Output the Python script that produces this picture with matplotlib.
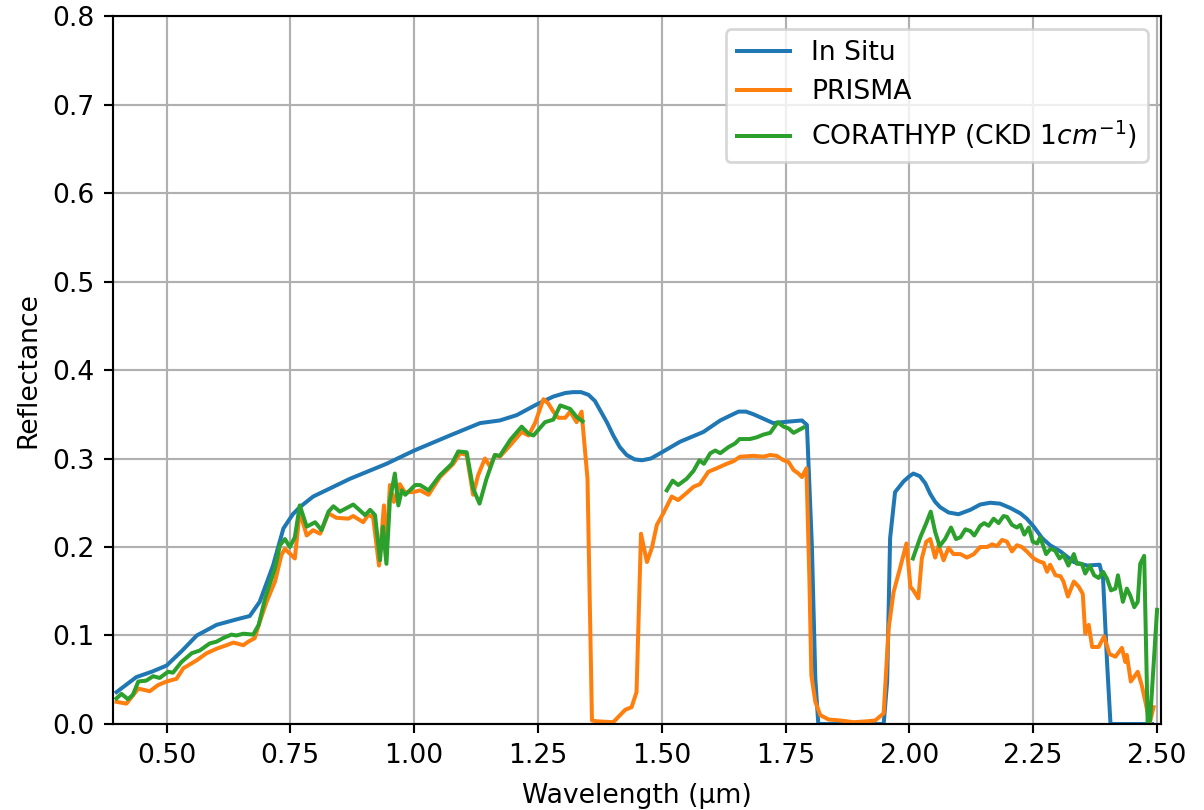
import numpy as np
import matplotlib
matplotlib.use("Agg")
import matplotlib.pyplot as plt

# In situ reflectance
wl_insitu = [0.399, 0.439, 0.470, 0.500, 0.530, 0.561, 0.601, 0.640, 0.668, 0.688,
             0.715, 0.736, 0.755, 0.769, 0.796, 0.870, 0.944, 1.000, 1.072, 1.133,
             1.173, 1.207, 1.247, 1.281, 1.305, 1.321, 1.337, 1.352, 1.365, 1.375,
             1.390, 1.402, 1.415, 1.429, 1.445, 1.460, 1.478, 1.497, 1.537, 1.584,
             1.618, 1.640, 1.655, 1.670, 1.685, 1.705, 1.725, 1.742, 1.783, 1.793,
             1.803, 1.810, 1.816, 1.948, 1.955, 1.961, 1.971, 1.988, 2.000, 2.008,
             2.021, 2.032, 2.042, 2.052, 2.062, 2.079, 2.099, 2.123, 2.143, 2.163,
             2.183, 2.204, 2.224, 2.237, 2.251, 2.268, 2.284, 2.305, 2.332, 2.359,
             2.384, 2.391, 2.399, 2.406, 2.490]
r_insitu = [0.036, 0.053, 0.059, 0.066, 0.082, 0.100, 0.112, 0.118, 0.122, 0.138,
            0.179, 0.221, 0.237, 0.245, 0.257, 0.277, 0.294, 0.309, 0.326, 0.340,
            0.343, 0.349, 0.361, 0.370, 0.374, 0.375, 0.375, 0.372, 0.365, 0.355,
            0.340, 0.326, 0.313, 0.304, 0.299, 0.298, 0.300, 0.306, 0.319, 0.330,
            0.343, 0.349, 0.353, 0.353, 0.350, 0.345, 0.340, 0.341, 0.343, 0.338,
            0.202, 0.051, 0.0, 0.0, 0.048, 0.210, 0.262, 0.274, 0.280, 0.283,
            0.280, 0.272, 0.260, 0.251, 0.245, 0.239, 0.237, 0.242, 0.248, 0.250,
            0.249, 0.244, 0.238, 0.232, 0.223, 0.210, 0.202, 0.195, 0.183, 0.179,
            0.180, 0.164, 0.070, 0.0, 0.0]

# PRISMA
wl_prisma = [0.399, 0.419, 0.443, 0.466, 0.483, 0.500, 0.520, 0.534, 0.561, 0.581,
             0.601, 0.621, 0.635, 0.655, 0.665, 0.678, 0.688, 0.702, 0.719, 0.732,
             0.739, 0.759, 0.769, 0.783, 0.796, 0.810, 0.827, 0.843, 0.867, 0.877,
             0.897, 0.907, 0.917, 0.929, 0.939, 0.943, 0.951, 0.959, 0.971, 0.981,
             0.998, 1.012, 1.029, 1.052, 1.079, 1.093, 1.106, 1.119, 1.129, 1.143,
             1.153, 1.163, 1.173, 1.194, 1.217, 1.231, 1.244, 1.261, 1.271, 1.281,
             1.291, 1.305, 1.315, 1.328, 1.338, 1.350, 1.359, 1.369, 1.402, 1.426,
             1.439, 1.449, 1.458, 1.470, 1.480, 1.490, 1.503, 1.520, 1.533, 1.550,
             1.564, 1.577, 1.594, 1.611, 1.631, 1.645, 1.658, 1.685, 1.705, 1.719,
             1.732, 1.746, 1.756, 1.766, 1.776, 1.783, 1.792, 1.798, 1.802, 1.810,
             1.820, 1.837, 1.860, 1.887, 1.914, 1.931, 1.948, 1.958, 1.968, 1.981,
             1.994, 2.002, 2.008, 2.018, 2.025, 2.034, 2.042, 2.052, 2.059, 2.069,
             2.079, 2.089, 2.103, 2.116, 2.130, 2.143, 2.157, 2.167, 2.177, 2.187,
             2.197, 2.207, 2.217, 2.227, 2.237, 2.251, 2.261, 2.271, 2.278, 2.284,
             2.295, 2.305, 2.311, 2.320, 2.332, 2.342, 2.350, 2.355, 2.362, 2.369,
             2.382, 2.393, 2.404, 2.416, 2.429, 2.436, 2.439, 2.447, 2.461, 2.469,
             2.478, 2.485, 2.493]
r_prisma = [0.025, 0.023, 0.040, 0.037, 0.044, 0.048, 0.051, 0.063, 0.072, 0.080,
            0.085, 0.089, 0.092, 0.089, 0.093, 0.097, 0.115, 0.138, 0.161, 0.191,
            0.198, 0.187, 0.240, 0.213, 0.219, 0.215, 0.238, 0.233, 0.232, 0.235,
            0.228, 0.236, 0.234, 0.179, 0.247, 0.187, 0.270, 0.251, 0.271, 0.262,
            0.262, 0.264, 0.259, 0.279, 0.294, 0.306, 0.304, 0.259, 0.281, 0.300,
            0.291, 0.304, 0.302, 0.315, 0.330, 0.326, 0.340, 0.367, 0.362, 0.353,
            0.346, 0.346, 0.353, 0.341, 0.353, 0.277, 0.004, 0.003, 0.002, 0.016,
            0.019, 0.036, 0.215, 0.183, 0.199, 0.225, 0.238, 0.257, 0.253, 0.261,
            0.268, 0.271, 0.285, 0.289, 0.294, 0.297, 0.302, 0.303, 0.302, 0.304,
            0.303, 0.298, 0.296, 0.287, 0.283, 0.279, 0.289, 0.164, 0.055, 0.025,
            0.010, 0.005, 0.004, 0.002, 0.003, 0.004, 0.012, 0.108, 0.149, 0.176,
            0.204, 0.155, 0.151, 0.142, 0.187, 0.206, 0.209, 0.188, 0.202, 0.185,
            0.199, 0.192, 0.192, 0.188, 0.192, 0.200, 0.200, 0.203, 0.201, 0.208,
            0.206, 0.195, 0.202, 0.200, 0.195, 0.187, 0.184, 0.182, 0.172, 0.180,
            0.168, 0.167, 0.161, 0.144, 0.161, 0.155, 0.147, 0.102, 0.112, 0.087,
            0.087, 0.099, 0.079, 0.076, 0.086, 0.070, 0.078, 0.048, 0.059, 0.044,
            0.021, 0.001, 0.019]

# CORATHYP (gaps as NaN)
wl_corathyp = [0.399, 0.409, 0.422, 0.432, 0.443, 0.459, 0.473, 0.486, 0.503, 0.513,
               0.530, 0.551, 0.567, 0.587, 0.601, 0.614, 0.631, 0.641, 0.655, 0.675,
               0.686, 0.699, 0.719, 0.729, 0.739, 0.749, 0.759, 0.769, 0.783, 0.800,
               0.813, 0.827, 0.837, 0.850, 0.877, 0.901, 0.911, 0.921, 0.931, 0.937,
               0.944, 0.951, 0.961, 0.968, 0.975, 0.982, 1.002, 1.012, 1.029, 1.052,
               1.076, 1.089, 1.106, 1.119, 1.132, 1.146, 1.163, 1.173, 1.194, 1.217,
               1.231, 1.241, 1.264, 1.281, 1.295, 1.315, 1.328, 1.340, 1.420,
               1.510, 1.522, 1.533, 1.550, 1.564, 1.576, 1.585, 1.598, 1.608, 1.618,
               1.635, 1.648, 1.657, 1.678, 1.692, 1.705, 1.719, 1.734, 1.746, 1.756,
               1.766, 1.776, 1.786, 1.900,
               2.007, 2.022, 2.034, 2.043, 2.052, 2.061, 2.072, 2.084, 2.094, 2.103,
               2.113, 2.123, 2.131, 2.143, 2.151, 2.160, 2.170, 2.180, 2.190, 2.197,
               2.207, 2.217, 2.224, 2.232, 2.241, 2.249, 2.258, 2.264, 2.276, 2.285,
               2.294, 2.303, 2.311, 2.321, 2.332, 2.338, 2.348, 2.355, 2.364, 2.373,
               2.382, 2.391, 2.399, 2.407, 2.416, 2.421, 2.431, 2.439, 2.446, 2.454,
               2.461, 2.466, 2.474, 2.481, 2.486, 2.500]
r_corathyp = [0.029, 0.034, 0.028, 0.033, 0.048, 0.049, 0.054, 0.052, 0.059, 0.058,
              0.070, 0.080, 0.083, 0.091, 0.093, 0.097, 0.101, 0.100, 0.102, 0.101,
              0.112, 0.142, 0.176, 0.202, 0.209, 0.200, 0.211, 0.247, 0.223, 0.228,
              0.219, 0.240, 0.246, 0.240, 0.248, 0.236, 0.242, 0.236, 0.185, 0.223,
              0.181, 0.253, 0.283, 0.247, 0.264, 0.259, 0.270, 0.270, 0.264, 0.281,
              0.294, 0.308, 0.307, 0.266, 0.249, 0.277, 0.304, 0.303, 0.321, 0.336,
              0.328, 0.326, 0.341, 0.344, 0.360, 0.356, 0.347, 0.342, np.nan,
              0.264, 0.275, 0.270, 0.277, 0.286, 0.298, 0.294, 0.306, 0.309, 0.306,
              0.313, 0.317, 0.322, 0.322, 0.324, 0.327, 0.329, 0.341, 0.336, 0.334,
              0.329, 0.332, 0.335, np.nan,
              0.187, 0.211, 0.227, 0.240, 0.217, 0.201, 0.209, 0.222, 0.209, 0.211,
              0.220, 0.218, 0.213, 0.224, 0.227, 0.224, 0.232, 0.227, 0.235, 0.234,
              0.225, 0.222, 0.225, 0.214, 0.222, 0.206, 0.204, 0.211, 0.192, 0.198,
              0.196, 0.187, 0.191, 0.179, 0.192, 0.181, 0.181, 0.170, 0.179, 0.168,
              0.165, 0.172, 0.164, 0.151, 0.153, 0.168, 0.138, 0.153, 0.145, 0.132,
              0.138, 0.181, 0.190, 0.002, 0.004, 0.129]

DPI = 192
fig, ax = plt.subplots(figsize=(1204 / DPI, 810 / DPI), dpi=DPI)
fig.subplots_adjust(left=0.0939, right=0.9643, bottom=0.1062, top=0.9802)

ax.plot(wl_insitu, r_insitu, label='In Situ')
ax.plot(wl_prisma, r_prisma, label='PRISMA')
ax.plot(wl_corathyp, r_corathyp, label=r'CORATHYP (CKD $1cm^{-1}$)')

ax.set_xlim(0.392, 2.508)
ax.set_ylim(0, 0.8)
ax.set_xticks(np.arange(0.5, 2.51, 0.25))
ax.set_xlabel('Wavelength (µm)', labelpad=5.5)
ax.set_ylabel('Reflectance')
ax.grid(True)
ax.legend(loc='upper right')

fig.savefig('out.png', dpi=DPI)
